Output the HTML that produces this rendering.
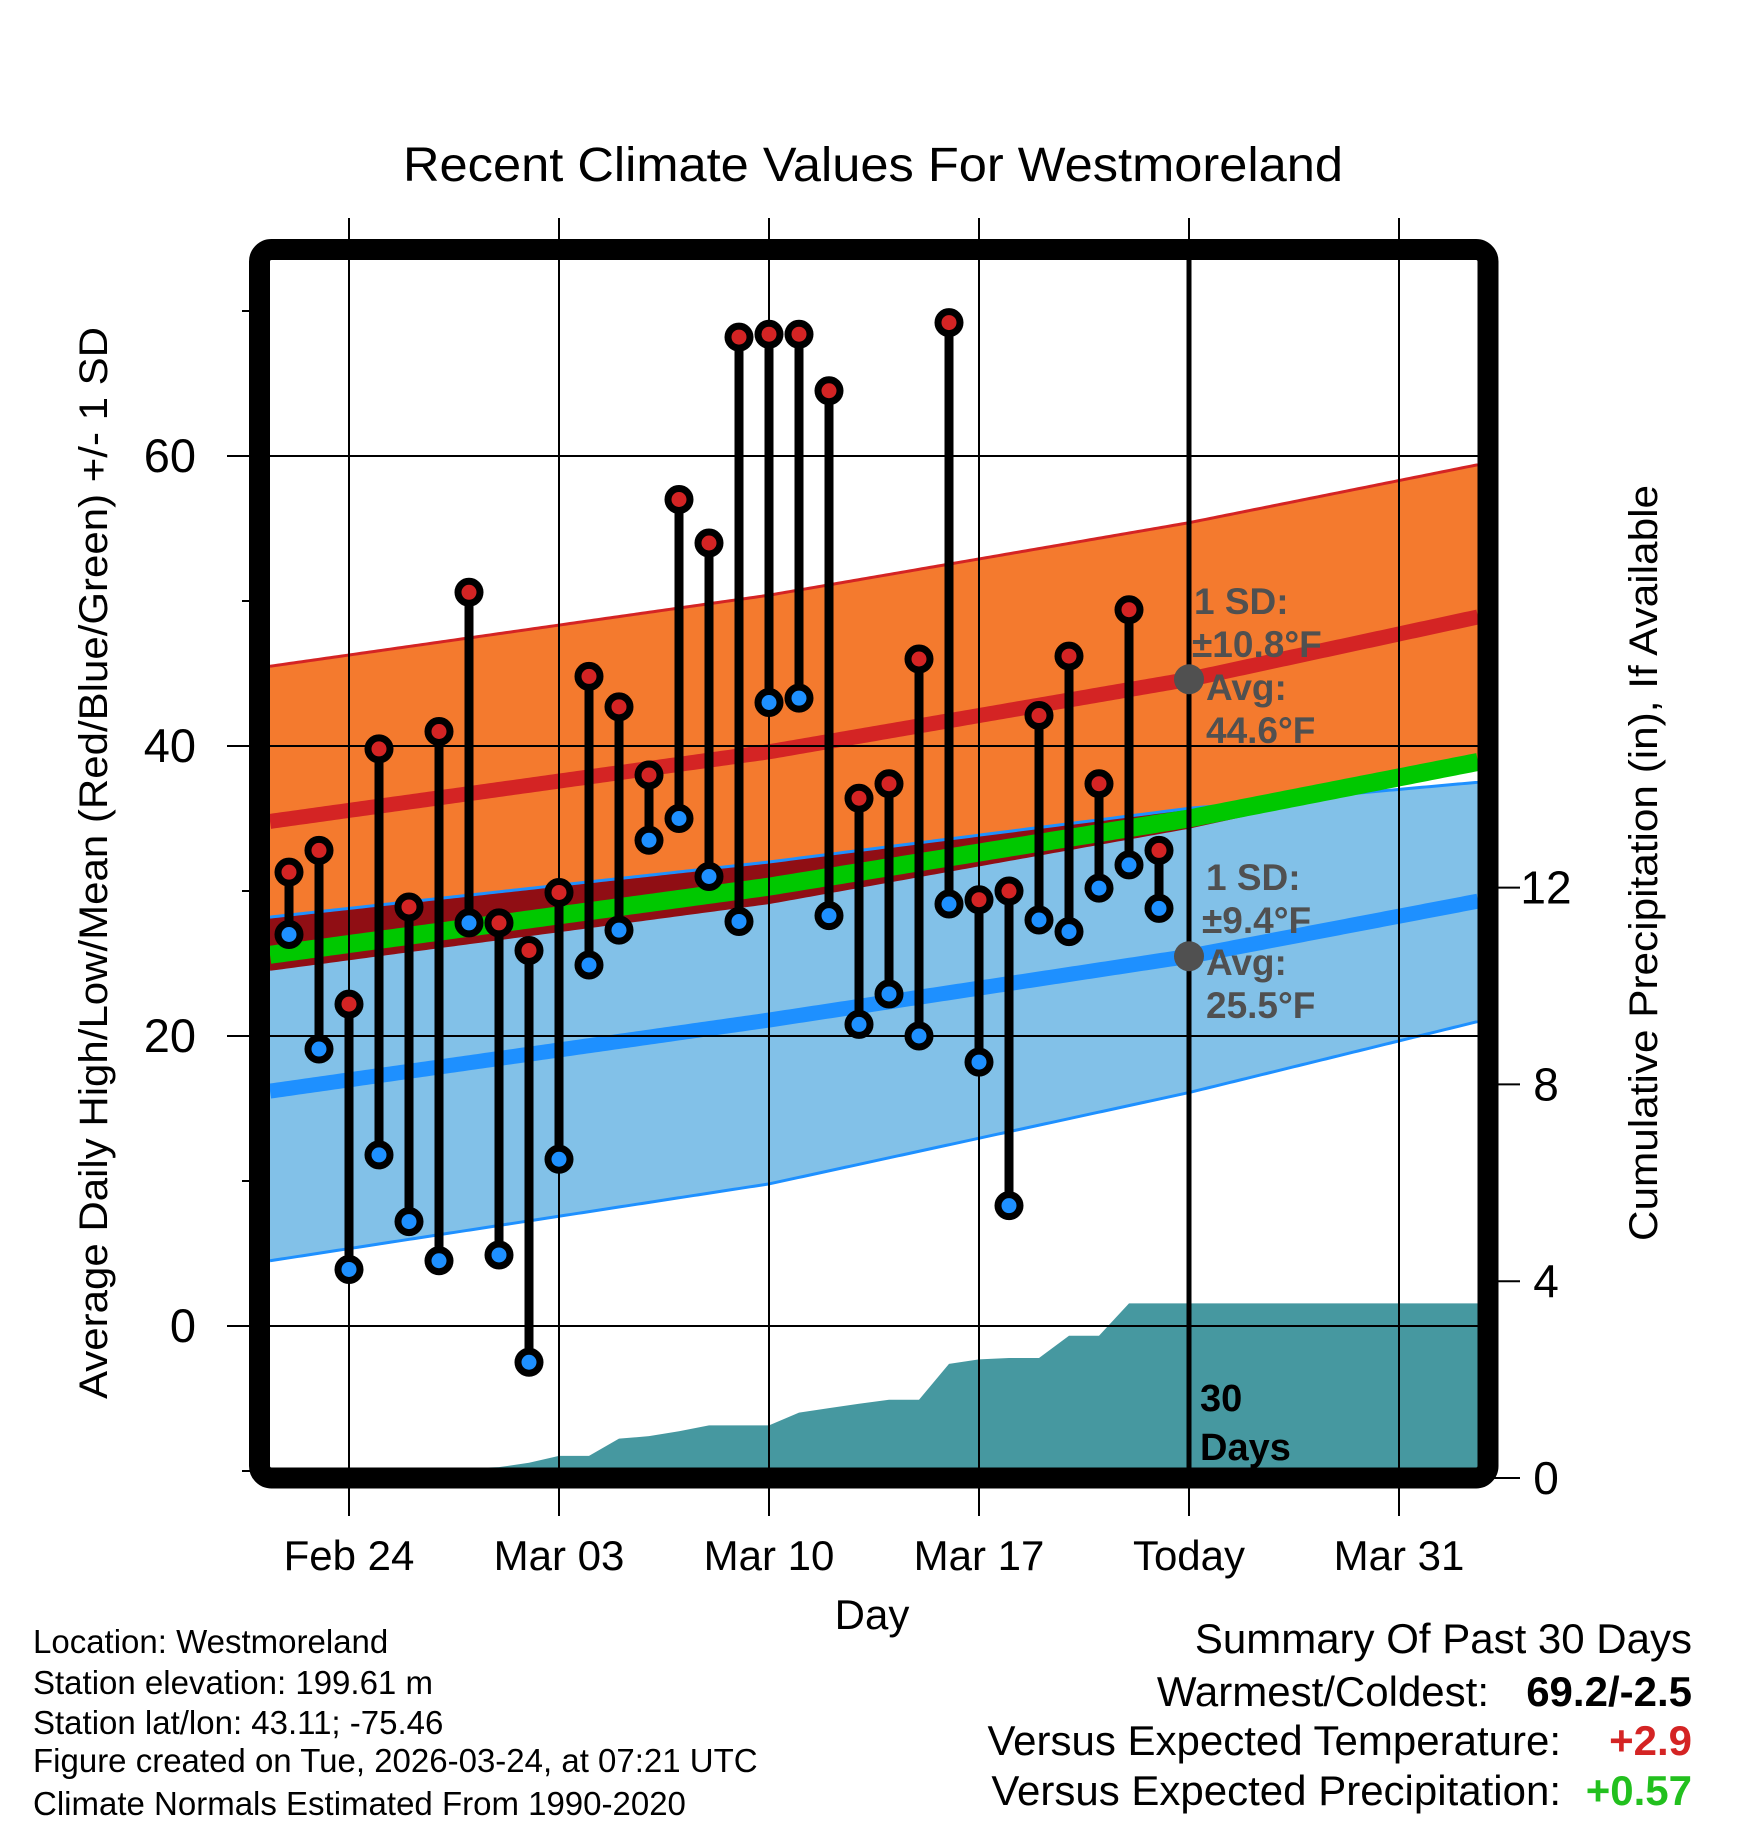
<!DOCTYPE html>
<html><head><meta charset="utf-8"><style>
html,body{margin:0;padding:0;background:#fff;}
svg{display:block;font-family:"Liberation Sans",sans-serif;}
</style></head><body>
<svg id="chart" width="1748" height="1828" viewBox="0 0 1748 1828" xmlns="http://www.w3.org/2000/svg">
<g id="layer"></g>
</svg>
<script>
// ---- data ----
const days = [-2,-1,0,1,2,3,4,5,6,7,8,9,10,11,12,13,14,15,16,17,18,19,20,21,22,23,24,25,26,27];
const highs = [31.3,32.8,22.2,39.8,28.9,41.0,50.6,27.8,25.9,29.9,44.8,42.7,38.0,57.0,54.0,68.2,68.4,68.4,64.5,36.4,37.4,46.0,69.2,29.4,30.0,42.1,46.2,37.4,49.4,32.8];
const lows = [27.0,19.1,3.9,11.8,7.2,4.5,27.8,4.9,-2.5,11.5,24.9,27.3,33.5,35.0,31.0,27.9,43.0,43.3,28.3,20.8,22.9,20.0,29.1,18.2,8.3,28.0,27.2,30.2,31.8,28.8];
const precip = [0.15,0.15,0.15,0.2,0.2,0.2,0.2,0.22,0.31,0.45,0.45,0.80,0.85,0.95,1.07,1.07,1.07,1.33,1.42,1.51,1.59,1.59,2.32,2.41,2.44,2.44,2.89,2.89,3.55,3.55];
const normDays = [-2.63,14,28,37.63];
const highUpper = [45.5,50.4,55.4,59.4];
const highMean = [34.8,39.6,44.6,48.9];
const highLower = [24.6,29.2,34.4,38.8];
const lowUpper = [28.2,32.0,35.7,37.5];
const lowMean = [16.2,21.1,25.5,29.3];
const lowLower = [4.5,9.8,16.1,21.0];
const meanTemp = [25.6,30.3,35.0,38.9];
const xTickDays = [0,7,14,21,28,35];
const xTickLabels = ["Feb 24","Mar 03","Mar 10","Mar 17","Today","Mar 31"];
const yTicks = [0,20,40,60];
const yMinor = [-10,10,30,50,70];
const pTicks = [0,4,8,12];

// ---- axes ----
const L=270,R=1478,T=260,B=1468;
const X = d => 349 + 30*d;
const Y = v => 1326 - 14.5*v;
const P = p => 1478 - 49.2*p;
const NS="http://www.w3.org/2000/svg";
const layer=document.getElementById('layer');
function mk(tag,attrs,parent){const e=document.createElementNS(NS,tag);for(const k in attrs)e.setAttribute(k,attrs[k]);(parent||layer).appendChild(e);return e;}
function interp(arr,d){for(let i=0;i<normDays.length-1;i++){if(d<=normDays[i+1]||i===normDays.length-2){const t=(d-normDays[i])/(normDays[i+1]-normDays[i]);return arr[i]+t*(arr[i+1]-arr[i]);}}}
const dL=normDays[0],dR=normDays[normDays.length-1];
function samples(){const s=[];for(let x=L;x<=R;x+=4)s.push((x-349)/30);s.push(dR);return s;}
const S=samples();
function bandPath(up,lo){let a=S.map(d=>X(d)+','+Y(interp(up,d)));let b=S.slice().reverse().map(d=>X(d)+','+Y(interp(lo,d)));return 'M'+a.join('L')+'L'+b.join('L')+'Z';}
function linePath(arr){return 'M'+S.map(d=>X(d)+','+Y(interp(arr,d))).join('L');}

mk('defs',{}).innerHTML='<clipPath id="pc"><rect x="270" y="260" width="1208" height="1208"/></clipPath>';
const plot=mk('g',{'clip-path':'url(#pc)'});



let e=mk('path',{d:bandPath(highUpper,highLower),fill:'#F47A2E'},plot);

e=mk('path',{d:bandPath(lowUpper,lowLower),fill:'#82C1E8'},plot);

{let a=[],b=[];S.forEach(d=>{const hl=interp(highLower,d),lu=interp(lowUpper,d);const top=lu>hl?lu:hl;a.push(X(d)+','+Y(top));b.push(X(d)+','+Y(hl));});
e=mk('path',{d:'M'+a.join('L')+'L'+b.reverse().join('L')+'Z',fill:'#900E14'},plot);
}
e=mk('path',{d:linePath(highUpper),fill:'none',stroke:'#D42424','stroke-width':3},plot);

e=mk('path',{d:linePath(lowUpper),fill:'none',stroke:'#1E90FF','stroke-width':3},plot);

e=mk('path',{d:linePath(highLower),fill:'none',stroke:'#900E14','stroke-width':3},plot);

e=mk('path',{d:linePath(lowLower),fill:'none',stroke:'#1E90FF','stroke-width':3},plot);

e=mk('path',{d:linePath(meanTemp),fill:'none',stroke:'#00C800','stroke-width':18},plot);

e=mk('path',{d:linePath(highMean),fill:'none',stroke:'#D42424','stroke-width':15},plot);

e=mk('path',{d:linePath(lowMean),fill:'none',stroke:'#1E90FF','stroke-width':15},plot);


{let pts=[X(dL)+','+P(0),X(dL)+','+P(precip[0])];days.forEach((d,i)=>pts.push(X(d)+','+P(precip[i])));pts.push(X(dR)+','+P(precip[precip.length-1]));pts.push(X(dR)+','+P(0));
e=mk('polygon',{points:pts.join(' '),fill:'#4698A0'},plot);
}

yTicks.forEach(v=>{const g=mk('line',{x1:227,x2:R,y1:Y(v),y2:Y(v),stroke:'#000','stroke-width':2});
});
yMinor.forEach(v=>{const g=mk('line',{x1:242,x2:252,y1:Y(v),y2:Y(v),stroke:'#000','stroke-width':2});
});
xTickDays.forEach((d,i)=>{const g=mk('line',{x1:X(d),x2:X(d),y1:218,y2:1516,stroke:'#000','stroke-width':2});

const t=mk('text',{x:X(d),y:1570,'font-size':42,'text-anchor':'middle'});t.textContent=xTickLabels[i];
});
yTicks.forEach(v=>{const t=mk('text',{x:196,y:Y(v)+16,'font-size':47,'text-anchor':'end'});t.textContent=v;
});
pTicks.forEach(p=>{const g=mk('line',{x1:1488,x2:1520,y1:P(p),y2:P(p),stroke:'#000','stroke-width':2});

const t=mk('text',{x:1546,y:P(p)+16,'font-size':46,'text-anchor':'middle'});t.textContent=p;
});

e=mk('line',{x1:X(28),x2:X(28),y1:T,y2:B,stroke:'#000','stroke-width':5});


days.forEach((d,i)=>{
 const g=mk('g',{});
 
 mk('line',{x1:X(d),x2:X(d),y1:Y(highs[i]),y2:Y(lows[i]),stroke:'#000','stroke-width':9},g);
 const h=mk('circle',{cx:X(d),cy:Y(highs[i]),r:11,fill:'#D42424',stroke:'#000','stroke-width':7},g);
 
 const l=mk('circle',{cx:X(d),cy:Y(lows[i]),r:11,fill:'#1E90FF',stroke:'#000','stroke-width':7},g);
 
});
e=mk('circle',{cx:X(28),cy:Y(highMean[2]),r:15,fill:'#505050'});

e=mk('circle',{cx:X(28),cy:Y(lowMean[2]),r:15,fill:'#505050'});

</script>
<svg style="position:absolute;left:0;top:0" width="1748" height="1828" viewBox="0 0 1748 1828" xmlns="http://www.w3.org/2000/svg" font-family="Liberation Sans, sans-serif">
<rect x="259.5" y="249.5" width="1228.5" height="1228.5" rx="12" fill="none" stroke="#000" stroke-width="21"/>
<text x="873" y="181" font-size="48" text-anchor="middle" textLength="940" lengthAdjust="spacingAndGlyphs">Recent Climate Values For Westmoreland</text>
<text transform="translate(107,863) rotate(-90)" font-size="40" text-anchor="middle" textLength="1072" lengthAdjust="spacingAndGlyphs">Average Daily High/Low/Mean (Red/Blue/Green) +/- 1 SD</text>
<text transform="translate(1657,863) rotate(-90)" font-size="40" text-anchor="middle" textLength="756" lengthAdjust="spacingAndGlyphs">Cumulative Precipitation (in), If Available</text>
<text x="872" y="1629" font-size="42" text-anchor="middle">Day</text>
<g font-size="37" font-weight="bold" fill="#505050">
<text x="1194" y="614">1 SD:</text><text x="1192" y="657">±10.8°F</text><text x="1206" y="700">Avg:</text><text x="1206" y="743">44.6°F</text></g>
<g font-size="37" font-weight="bold" fill="#505050">
<text x="1206" y="890">1 SD:</text><text x="1202" y="933">±9.4°F</text><text x="1206" y="975">Avg:</text><text x="1206" y="1018">25.5°F</text></g>
<g font-size="38" font-weight="bold" fill="#000">
<text x="1200" y="1411">30</text><text x="1200" y="1460">Days</text></g>
<g font-size="33" fill="#000">
<text x="33" y="1653">Location: Westmoreland</text>
<text x="33" y="1694">Station elevation: 199.61 m</text>
<text x="33" y="1734">Station lat/lon: 43.11; -75.46</text>
<text x="33" y="1772">Figure created on Tue, 2026-03-24, at 07:21 UTC</text>
<text x="33" y="1815">Climate Normals Estimated From 1990-2020</text></g>
<g font-size="42" fill="#000">
<text x="1692" y="1653" text-anchor="end">Summary Of Past 30 Days</text>
<text x="1489" y="1706" text-anchor="end">Warmest/Coldest:</text>
<text x="1692" y="1706" text-anchor="end" font-weight="bold">69.2/-2.5</text>
<text x="1561" y="1755" text-anchor="end">Versus Expected Temperature:</text>
<text x="1692" y="1755" text-anchor="end" font-weight="bold" fill="#D42424">+2.9</text>
<text x="1561" y="1805" text-anchor="end">Versus Expected Precipitation:</text>
<text x="1692" y="1805" text-anchor="end" font-weight="bold" fill="#22C01E">+0.57</text></g>
</svg>
</body></html>
